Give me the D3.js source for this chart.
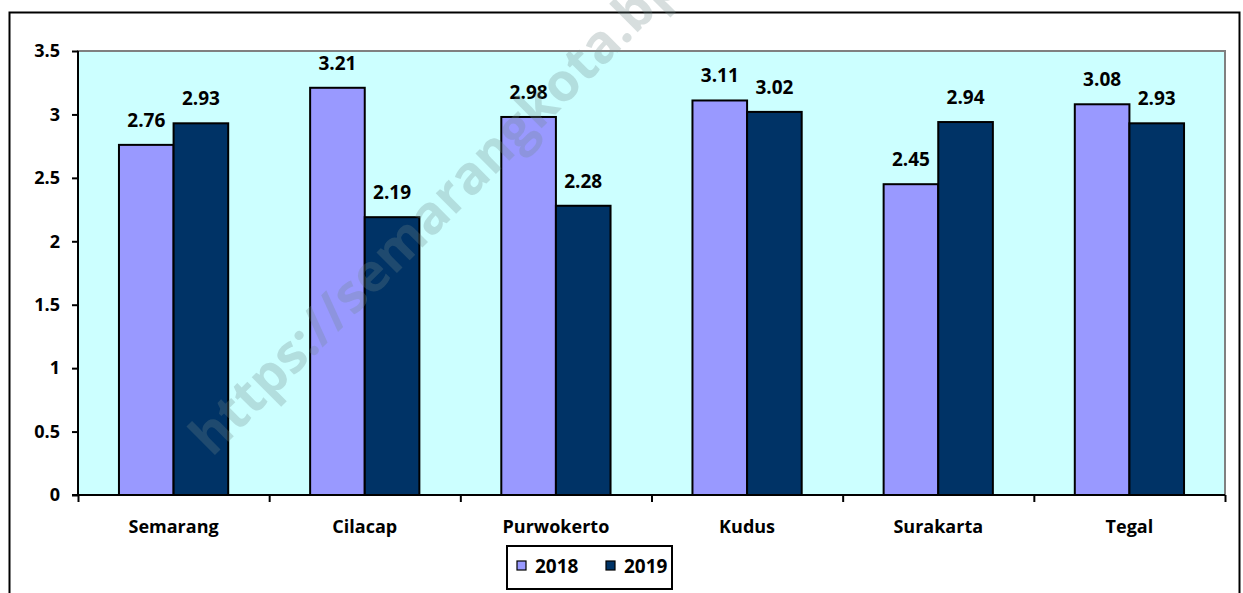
<!DOCTYPE html>
<html>
<head>
<meta charset="utf-8">
<title>Semarang dan kota lain, 2018-2019</title>
<script src="https://cdn.jsdelivr.net/npm/d3@7/dist/d3.min.js"></script>
<style>
    body { margin: 0; background: #ffffff; }
    #chartholder { width: 1243px; height: 593px; overflow: hidden; }
    text { font-family: "Open Sans", "Noto Sans", sans-serif; font-weight: 700; fill: #000; }
</style>
</head>
<body>
<div id="chartholder"></div>
<script>
    // data
    var cities = ['Semarang', 'Cilacap', 'Purwokerto', 'Kudus', 'Surakarta', 'Tegal'];
    var years = ['2018', '2019'];
    var values2018 = [2.76, 3.21, 2.98, 3.11, 2.45, 3.08];
    var values2019 = [2.93, 2.19, 2.28, 3.02, 2.94, 2.93];
    var yTicks = [0, 0.5, 1, 1.5, 2, 2.5, 3, 3.5];
    var colors = ['#9999ff', '#003366'];

    var width = 1243, height = 593;
    var plot = {left: 78, top: 51, right: 1225, bottom: 495};

    var svg = d3.select('#chartholder').append('svg')
        .attr('width', width)
        .attr('height', height);

    // outer frame
    svg.append('rect')
        .attr('x', 9.5).attr('y', 12.5)
        .attr('width', 1230).attr('height', 600)
        .attr('fill', '#fff')
        .attr('stroke', '#000').attr('stroke-width', 2);

    // plot background
    svg.append('rect')
        .attr('x', plot.left).attr('y', plot.top)
        .attr('width', plot.right - plot.left)
        .attr('height', plot.bottom - plot.top)
        .attr('fill', '#ccffff')
        .attr('stroke', '#808080').attr('stroke-width', 2);

    var x0 = d3.scaleBand()
        .domain(cities)
        .range([plot.left, plot.right])
        .paddingInner(0).paddingOuter(0);

    // gap width 150% like the spreadsheet
    var barW = x0.bandwidth() / 3.5;
    var x1 = d3.scaleBand()
        .domain(years)
        .range([0.75 * barW, 2.75 * barW]);

    var y = d3.scaleLinear()
        .domain([0, 3.5])
        .range([plot.bottom, plot.top]);

    var rows = cities.map(function(c, i) {
        return {city: c, vals: [values2018[i], values2019[i]]};
    });

    var groups = svg.append('g').attr('id', 'bars')
        .selectAll('g')
        .data(rows)
        .enter().append('g')
            .attr('transform', function(d) { return 'translate(' + x0(d.city) + ',0)'; });

    groups.selectAll('rect')
        .data(function(d) { return d.vals.map(function(v, j) { return {year: years[j], v: v, j: j}; }); })
        .enter().append('rect')
            .attr('x', function(d) { return x1(d.year); })
            .attr('y', function(d) { return y(d.v); })
            .attr('width', x1.bandwidth())
            .attr('height', function(d) { return plot.bottom - y(d.v); })
            .attr('fill', function(d) { return colors[d.j]; })
            .attr('stroke', '#000').attr('stroke-width', 2);

    groups.selectAll('text.lbl')
        .data(function(d) { return d.vals.map(function(v, j) { return {year: years[j], v: v}; }); })
        .enter().append('text')
            .attr('class', 'lbl')
            .attr('x', function(d) { return x1(d.year) + x1.bandwidth() / 2; })
            .attr('y', function(d) { return y(d.v) - 18; })
            .attr('text-anchor', 'middle')
            .style('font-size', '19px')
            .text(function(d) { return d3.format('.2f')(d.v); });

    // y axis
    var yAxis = svg.append('g')
        .attr('transform', 'translate(' + plot.left + ',0)')
        .call(d3.axisLeft(y).tickValues(yTicks).tickSize(6).tickPadding(12)
            .tickFormat(function(d) { return d; }));
    yAxis.selectAll('line, path').attr('stroke', '#000').attr('stroke-width', 2);
    yAxis.select('.domain').attr('d', 'M0,' + plot.top + 'V' + plot.bottom);
    yAxis.attr('font-family', null).attr('font-size', null);
    yAxis.selectAll('text').style('font-size', '18px').style('fill', '#000');

    // x axis with ticks between categories
    var xEdges = d3.scaleLinear().domain([0, cities.length]).range([plot.left, plot.right]);
    var xAxis = svg.append('g')
        .attr('transform', 'translate(0,' + plot.bottom + ')')
        .call(d3.axisBottom(xEdges).ticks(cities.length).tickSize(7).tickFormat(''));
    xAxis.selectAll('line, path').attr('stroke', '#000').attr('stroke-width', 2);
    xAxis.select('.domain').attr('d', 'M' + (plot.left - 6) + ',0H' + plot.right);

    svg.append('g').selectAll('text')
        .data(cities)
        .enter().append('text')
            .attr('x', function(d) { return x0(d) + x0.bandwidth() / 2; })
            .attr('y', 533)
            .attr('text-anchor', 'middle')
            .style('font-size', '18px')
            .text(function(d) { return d; });

    // legend
    var legend = svg.append('g');
    legend.append('rect')
        .attr('x', 507).attr('y', 546)
        .attr('width', 165).attr('height', 43)
        .attr('fill', '#fff').attr('stroke', '#000').attr('stroke-width', 2);
    var legX = [517, 606];
    years.forEach(function(yr, i) {
        legend.append('rect')
            .attr('x', legX[i]).attr('y', 561)
            .attr('width', 9).attr('height', 9)
            .attr('fill', colors[i]).attr('stroke', '#000').attr('stroke-width', 1.2);
        legend.append('text')
            .attr('x', legX[i] + 18).attr('y', 573)
            .style('font-size', '19px')
            .text(yr);
    });

    // watermark
    svg.append('text')
        .attr('transform', 'translate(212,458) rotate(-45)')
        .style('font-family', '"Open Sans", sans-serif')
        .style('font-weight', '700')
        .style('font-size', '53px')
        .style('fill', 'rgba(110,135,135,0.28)')
        .text('https://semarangkota.bps.go.id');
</script>
</body>
</html>
